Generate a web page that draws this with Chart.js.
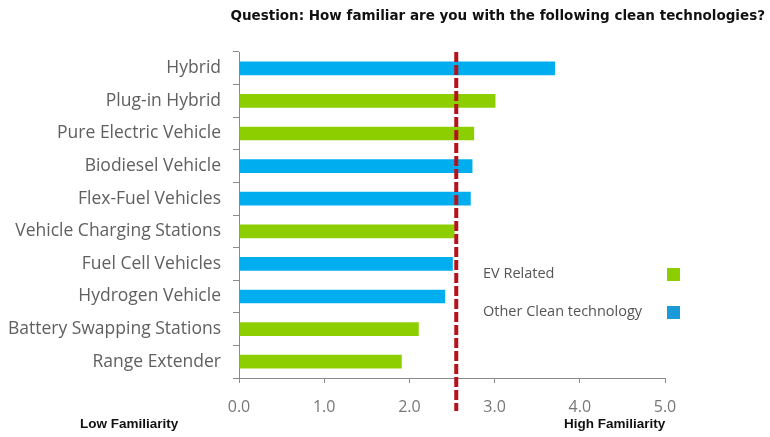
<!DOCTYPE html>
<html>
<head>
<meta charset="utf-8">
<script src="https://cdn.jsdelivr.net/npm/chart.js@4/dist/chart.umd.min.js"></script>
<style>
  html, body { margin: 0; padding: 0; background: #fff; }
  #wrap { width: 770px; height: 437px; position: relative; }
</style>
</head>
<body>
<div id="wrap"><canvas id="myChart"></canvas></div>
<script>
// 기술 항목
const categories = [
  'Hybrid', 'Plug-in Hybrid', 'Pure Electric Vehicle', 'Biodiesel Vehicle',
  'Flex-Fuel Vehicles', 'Vehicle Charging Stations', 'Fuel Cell Vehicles',
  'Hydrogen Vehicle', 'Battery Swapping Stations', 'Range Extender'
];
// EV 관련 항목 점수
const evRelated = [null, 3.01, 2.76, null, null, 2.53, null, null, 2.11, 1.91];
// 기타 청정기술 점수
const otherClean = [3.71, null, null, 2.74, 2.72, null, 2.51, 2.42, null, null];
// 평균선
const averageScore = 2.55;
const xTicks = [0, 1, 2, 3, 4, 5];

const GREEN = '#8CCE00';
const BLUE = '#00AEEF';
const TITLE = 'Question: How familiar are you with the following clean technologies?';

// 제목, 범례, 평균 점선, 하단 라벨
const extras = {
  id: 'extras',
  afterDatasetsDraw(chart) {
    const ctx = chart.ctx;
    const x = chart.scales.x;
    const area = chart.chartArea;
    ctx.save();

    // 평균 점선
    const px = x.getPixelForValue(averageScore);
    ctx.strokeStyle = '#B5121B';
    ctx.lineWidth = 4;
    ctx.setLineDash([10, 3]);
    ctx.beginPath();
    ctx.moveTo(px, area.top);
    ctx.lineTo(px, area.bottom + 33);
    ctx.stroke();
    ctx.setLineDash([]);

    // 제목
    ctx.fillStyle = '#111';
    ctx.font = 'bold 13.5px "DejaVu Sans"';
    ctx.textAlign = 'right';
    ctx.textBaseline = 'middle';
    ctx.fillText(TITLE, 765, 16);

    // 범례
    ctx.font = '14.5px "Open Sans"';
    ctx.textAlign = 'left';
    chart.data.datasets.forEach(function(ds, i) {
      const y = 274 + i * 38;
      ctx.fillStyle = '#555';
      ctx.fillText(ds.label, 483, y);
      ctx.fillStyle = i === 0 ? GREEN : '#1B9AD8';
      ctx.fillRect(667, y - 6, 13, 13);
    });

    // 하단 라벨
    ctx.fillStyle = '#111';
    ctx.font = 'bold 13.5px "Liberation Sans"';
    ctx.textAlign = 'left';
    ctx.fillText('Low Familiarity', 80, 424);
    ctx.fillText('High Familiarity', 564, 424);
    ctx.restore();
  }
};

const data = {
  labels: categories,
  datasets: [
    { label: 'EV Related', data: evRelated, backgroundColor: GREEN },
    { label: 'Other Clean technology', data: otherClean, backgroundColor: BLUE }
  ]
};

const config = {
  type: 'bar',
  data,
  options: {
    indexAxis: 'y',
    responsive: false,
    animation: false,
    layout: { padding: { top: 52, right: 105, left: 0, bottom: 0 } },
    datasets: { bar: { categoryPercentage: 1, barPercentage: 0.42 } },
    plugins: { legend: { display: false }, title: { display: false }, tooltip: { enabled: false } },
    scales: {
      x: {
        stacked: true,
        min: 0,
        max: 5,
        afterBuildTicks(scale) { scale.ticks = xTicks.map(v => ({ value: v })); },
        afterFit(scale) { scale.height = 59; },
        border: { color: '#8a8a8a', width: 1 },
        grid: { drawOnChartArea: false, tickLength: 5, color: '#8a8a8a' },
        ticks: {
          color: '#777',
          font: { family: 'Open Sans', size: 16 },
          padding: 15,
          callback: v => Number(v).toFixed(1)
        }
      },
      y: {
        stacked: true,
        afterFit(scale) { scale.width = 239; },
        border: { color: '#8a8a8a', width: 1 },
        grid: { drawOnChartArea: false, tickLength: 6, color: '#8a8a8a', offset: true },
        ticks: {
          color: '#606060',
          font: { family: 'Open Sans', size: 17.5 },
          padding: 12
        }
      }
    }
  },
  plugins: [extras]
};

const canvas = document.getElementById('myChart');
canvas.width = 770;
canvas.height = 437;
const myChart = new Chart(canvas, config);
</script>
</body>
</html>
